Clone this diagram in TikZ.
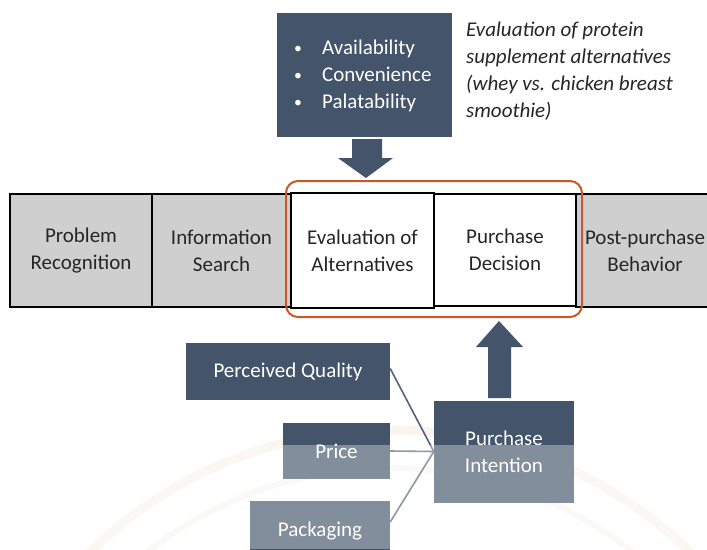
\documentclass[tikz,border=0pt]{standalone}
\usepackage{fontspec}
\setmainfont{Carlito}
\usetikzlibrary{calc}
\definecolor{slate}{RGB}{68,84,106}
\definecolor{linkslate}{RGB}{84,99,122}
\definecolor{rowgray}{RGB}{208,207,207}
\definecolor{frameorange}{RGB}{198,88,42}
\definecolor{textdark}{RGB}{38,38,38}
\definecolor{sealtint}{RGB}{238,228,208}
\newcommand{\smallbullet}{\raisebox{0.15ex}{\scalebox{0.75}{\textbullet}}}
\begin{document}
\begin{tikzpicture}[x=1pt,y=-1pt,
  basefont/.style={font=\fontsize{21}{27}\selectfont},
  stagebox/.style={basefont,draw=black,line width=2.2pt,fill=rowgray,inner sep=0pt,
    align=center,text=textdark},
  activebox/.style={stagebox,fill=white},
  slatebox/.style={basefont,fill=slate,inner sep=0pt,align=center,text=white},
  link/.style={draw=linkslate,line width=1.6pt},
  blockarrow/.style={fill=slate}]
\useasboundingbox (0,0) rectangle (707,549);
\clip (0,0) rectangle (707,549);
\fill[white] (0,0) rectangle (707,549);

% faint seal in the background
\draw[sealtint,line width=9pt,opacity=0.35] (390,860) circle[radius=430];
\draw[sealtint,line width=6pt,opacity=0.3] (390,860) circle[radius=392];

% decision process stages
\node[stagebox,minimum width=142pt,minimum height=113pt] (prob) at (81,250.5) {Problem\\Recognition};
\node[stagebox,minimum width=139pt,minimum height=113pt] (info) at (221.5,250.5) {Information\\Search};
\node[stagebox,minimum width=138pt,minimum height=113pt] (post) at (645,250.5) {Post-purchase\\Behavior};
\node[activebox,minimum width=143pt,minimum height=115pt] (eval) at (362.5,250.5) {Evaluation of\\Alternatives};
\node[activebox,minimum width=142pt,minimum height=112pt] (decide) at (505,250) {Purchase\\Decision};

% highlight frame around the two focus stages
\node[draw=frameorange,line width=2pt,rounded corners=12pt,minimum width=296pt,
  minimum height=136pt,inner sep=0pt] (focus) at (434,249) {};

% attribute box with bullets
\node[slatebox,minimum width=175pt,minimum height=124pt] (attr) at (364.5,75) {};
\node[basefont,text=white,anchor=west,align=left,inner sep=0pt] (attrlist) at (294,76)
  {\makebox[28pt][l]{\smallbullet}Availability\\
   \makebox[28pt][l]{\smallbullet}Convenience\\
   \makebox[28pt][l]{\smallbullet}Palatability};

\node[font=\fontsize{21}{27}\selectfont\itshape,text=textdark,anchor=west,align=left,inner sep=0pt]
  (note) at (466,71) {Evaluation of protein\\supplement alternatives\\(whey vs. chicken breast\\smoothie)};

% block arrow down into the evaluation stage
\fill[blockarrow] (352,139) -- (382,139) -- (382,158) -- (393,158) -- (366,178)
  -- (338,158) -- (352,158) -- cycle;

% influencing factors
\node[slatebox,minimum width=204pt,minimum height=57pt] (quality) at (288,371.5) {Perceived Quality};
\node[slatebox,minimum width=107pt,minimum height=56pt] (price) at (336.5,451) {Price};
\node[slatebox,minimum width=140pt,minimum height=60pt] (pack) at (320,531) {Packaging};
\node[slatebox,minimum width=140pt,minimum height=102pt] (intent) at (504,451.5) {Purchase\\Intention};

\draw[link] ($(quality.east)+(0,-3)$) -- (intent.west);
\draw[link] (price.east) -- (intent.west);
\draw[link] ($(pack.east)+(0,-9)$) -- (intent.west);

% block arrow up into the decision stage
\fill[blockarrow] (488,398) -- (511,398) -- (511,347) -- (523,347) -- (499,321)
  -- (476,347) -- (488,347) -- cycle;

% faded lower band
\fill[white,opacity=0.34] (0,445) rectangle (707,549);
\end{tikzpicture}
\end{document}
